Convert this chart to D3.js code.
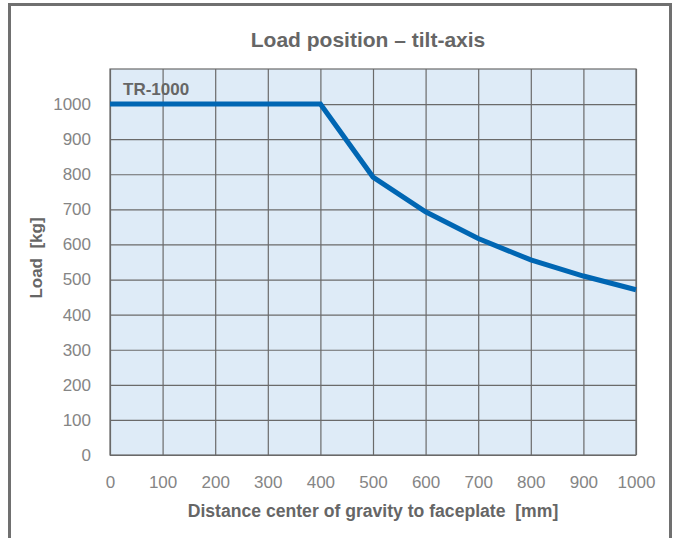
<!DOCTYPE html>
<html><head><meta charset="utf-8">
<script src="https://cdn.jsdelivr.net/npm/d3@7"></script>
<style>html,body{margin:0;padding:0;background:#fff;}svg{display:block;}text{white-space:pre;}</style>
</head><body>
<script>
const title = "Load position – tilt-axis";
const seriesName = "TR-1000";
const xTicks = [0,100,200,300,400,500,600,700,800,900,1000];
const yTicks = [0,100,200,300,400,500,600,700,800,900,1000];
const distance = [0,100,200,300,400,500,600,700,800,900,1000];
const load = [1000,1000,1000,1000,1000,792,693,617,556,510,471];
const xLabel = "Distance center of gravity to faceplate  [mm]";
const yLabel = "Load  [kg]";

const W = 678, H = 538;
const m = {left:110, right:W-636, top:69, bottom:H-455};
const svg = d3.select("body").append("svg").attr("width",W).attr("height",H);
const font = "Liberation Sans, Arial, Helvetica, sans-serif";

svg.append("rect").attr("x",9.5).attr("y",4.5).attr("width",661).attr("height",H+10)
  .attr("fill","none").attr("stroke","#707070").attr("stroke-width",3);

const x = d3.scaleLinear().domain([0,1000]).range([m.left, W-m.right]);
const y = d3.scaleLinear().domain([0,1100]).range([H-m.bottom, m.top]);

svg.append("rect").attr("x",x(0)).attr("y",y(1100)).attr("width",x(1000)-x(0)).attr("height",y(0)-y(1100))
  .attr("fill","#deebf7");

const g = svg.append("g");
g.append("g").attr("transform",`translate(0,${y(0)})`)
  .call(d3.axisBottom(x).tickValues(xTicks).tickSize(-(y(0)-y(1100))).tickFormat(d3.format("d")).tickPadding(21))
  .call(a=>a.select(".domain").remove())
  .call(a=>a.selectAll("line").attr("stroke","#6a6a6a").attr("stroke-width",1.2))
  .call(a=>a.selectAll("text").attr("fill","#858585").attr("font-size",17).attr("font-family",font));
g.append("g").attr("transform",`translate(${x(0)},0)`)
  .call(d3.axisLeft(y).tickValues(yTicks).tickSize(-(x(1000)-x(0))).tickFormat(d3.format("d")).tickPadding(19))
  .call(a=>a.select(".domain").remove())
  .call(a=>a.selectAll("line").attr("stroke","#6a6a6a").attr("stroke-width",1.2))
  .call(a=>a.selectAll("text").attr("fill","#858585").attr("font-size",17).attr("font-family",font));

svg.append("rect").attr("x",x(0)).attr("y",y(1100)).attr("width",x(1000)-x(0)).attr("height",y(0)-y(1100))
  .attr("fill","none").attr("stroke","#6a6a6a").attr("stroke-width",1.2);

const data = distance.map((d,i)=>[d,load[i]]);
svg.append("path").datum(data)
  .attr("d", d3.line().x(d=>x(d[0])).y(d=>y(d[1])))
  .attr("fill","none").attr("stroke","#0066b3").attr("stroke-width",5).attr("stroke-linejoin","miter");

svg.append("text").attr("x",368).attr("y",47).attr("text-anchor","middle")
  .attr("font-family",font).attr("font-weight","bold").attr("font-size",21).attr("fill","#666")
  .text(title);
svg.append("text").attr("x",123).attr("y",95).attr("font-family",font).attr("font-weight","bold")
  .attr("font-size",17).attr("fill","#666").text(seriesName);
svg.append("text").attr("x",(x(0)+x(1000))/2).attr("y",517).attr("text-anchor","middle")
  .attr("font-family",font).attr("font-weight","bold").attr("font-size",17.6).attr("fill","#666").text(xLabel);
svg.append("text").attr("transform",`translate(42,${258}) rotate(-90)`).attr("text-anchor","middle")
  .attr("font-family",font).attr("font-weight","bold").attr("font-size",17).attr("fill","#666").text(yLabel);
</script>
</body></html>
